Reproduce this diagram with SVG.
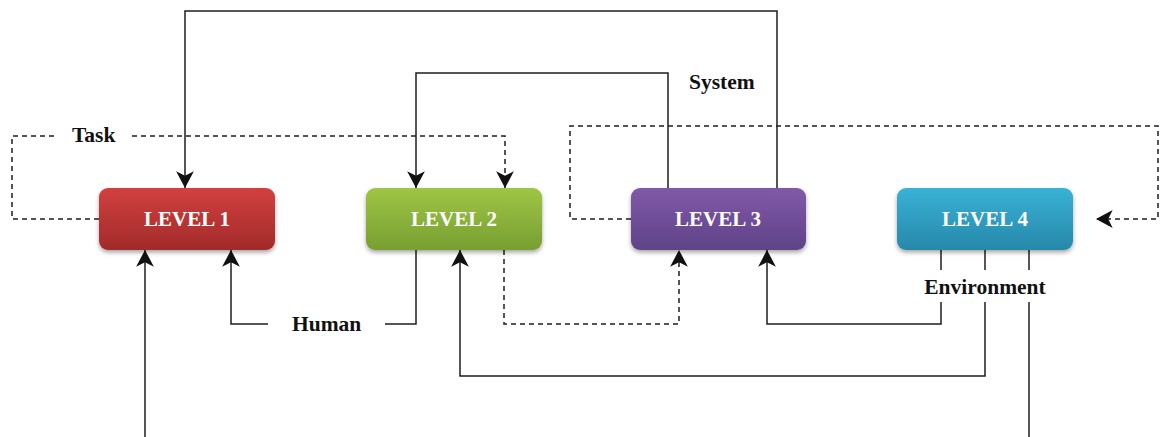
<svg xmlns="http://www.w3.org/2000/svg" width="1160" height="437" viewBox="0 0 1160 437">
  <defs>
    <style>
      .wire { fill: none; stroke: #1e1e1e; stroke-width: 1.5; }
      .dash { stroke-dasharray: 5 4; }
      .head { marker-end: url(#arrow); }
      .lvl { font-family: "Liberation Serif", "Times New Roman", serif; font-weight: bold; font-size: 21px; fill: #ffffff; text-anchor: middle; }
      .lbl { font-family: "Liberation Serif", "Times New Roman", serif; font-weight: bold; font-size: 21.5px; fill: #111111; }
      .box { filter: url(#shadow); }
    </style>
    <marker id="arrow" markerUnits="userSpaceOnUse" markerWidth="20" markerHeight="20" viewBox="-16 -9 18 18" refX="0" refY="0" orient="auto">
      <path d="M0,0 L-15,-8 L-11,0 L-15,8 Z" fill="#111111"/>
    </marker>
    <filter id="shadow" x="-10%" y="-20%" width="120%" height="150%">
      <feDropShadow dx="0" dy="2.5" stdDeviation="2" flood-color="#000000" flood-opacity="0.35"/>
    </filter>
    <linearGradient id="gRed" x1="0" y1="0" x2="0" y2="1">
      <stop offset="0" stop-color="#d2403f"/>
      <stop offset="1" stop-color="#a22a2a"/>
    </linearGradient>
    <linearGradient id="gGreen" x1="0" y1="0" x2="0" y2="1">
      <stop offset="0" stop-color="#9fc545"/>
      <stop offset="1" stop-color="#779f31"/>
    </linearGradient>
    <linearGradient id="gPurple" x1="0" y1="0" x2="0" y2="1">
      <stop offset="0" stop-color="#8159a9"/>
      <stop offset="1" stop-color="#5f4387"/>
    </linearGradient>
    <linearGradient id="gCyan" x1="0" y1="0" x2="0" y2="1">
      <stop offset="0" stop-color="#38b2d6"/>
      <stop offset="1" stop-color="#2788a9"/>
    </linearGradient>
  </defs>

  <rect width="1160" height="437" fill="#ffffff"/>

  <!-- connectors -->
  <g id="connectors">
    <!-- Level 3 up and over to Level 1 -->
    <path class="wire head" d="M777,188 V11 H185 V188"/>
    <!-- Level 3 to Level 2 (System) -->
    <path class="wire head" d="M668,188 V73 H416 V188"/>
    <!-- Task loop from Level 1 to Level 2 -->
    <path class="wire dash" d="M99,219 H12 V136 H55"/>
    <path class="wire dash head" d="M132,136 H505 V188"/>
    <!-- Level 3 dashed loop to Level 4 -->
    <path class="wire dash head" d="M631,219 H570 V126 H1158 V219 H1096"/>
    <!-- Human: Level 2 back to Level 1 -->
    <path class="wire" d="M416,250 V324 H385"/>
    <path class="wire head" d="M268,324 H231 V250"/>
    <!-- Level 2 dashed to Level 3 -->
    <path class="wire dash head" d="M504,250 V324 H679 V250"/>
    <!-- Environment lines from Level 4 -->
    <path class="wire" d="M941,250 V270"/>
    <path class="wire head" d="M941,302 V324 H767 V250"/>
    <path class="wire" d="M985,250 V270"/>
    <path class="wire head" d="M985,302 V376 H460 V250"/>
    <path class="wire" d="M1029,250 V270"/>
    <path class="wire" d="M1029,302 V437"/>
    <!-- input into Level 1 from below -->
    <path class="wire head" d="M145,437 V250"/>
  </g>

  <!-- nodes -->
  <g id="level1">
    <rect class="box" x="99" y="188" width="176" height="62" rx="9" fill="url(#gRed)"/>
    <text class="lvl" x="187" y="226">LEVEL 1</text>
  </g>
  <g id="level2">
    <rect class="box" x="366" y="188" width="176" height="62" rx="9" fill="url(#gGreen)"/>
    <text class="lvl" x="454" y="226">LEVEL 2</text>
  </g>
  <g id="level3">
    <rect class="box" x="631" y="188" width="175" height="62" rx="9" fill="url(#gPurple)"/>
    <text class="lvl" x="718" y="226">LEVEL 3</text>
  </g>
  <g id="level4">
    <rect class="box" x="897" y="188" width="176" height="62" rx="9" fill="url(#gCyan)"/>
    <text class="lvl" x="985" y="226">LEVEL 4</text>
  </g>

  <!-- labels -->
  <g id="labels">
    <text class="lbl" x="72" y="142">Task</text>
    <text class="lbl" x="689" y="89">System</text>
    <text class="lbl" x="292" y="331">Human</text>
    <text class="lbl" x="985" y="294" text-anchor="middle">Environment</text>
  </g>
</svg>
